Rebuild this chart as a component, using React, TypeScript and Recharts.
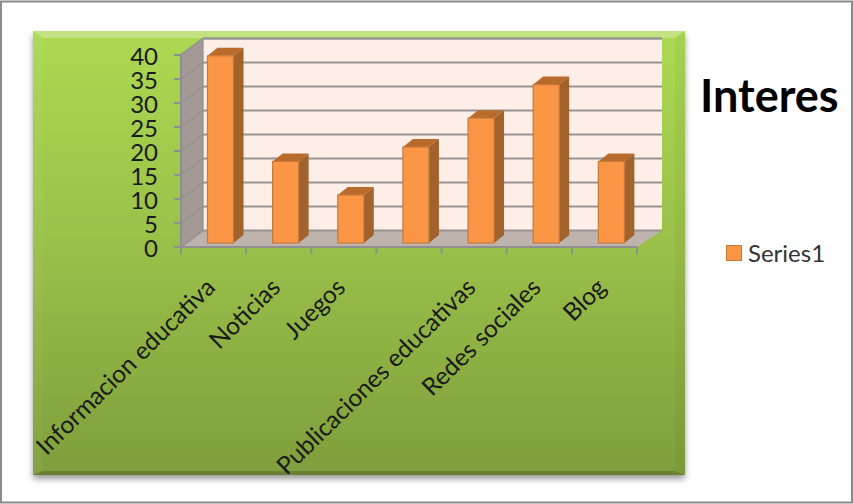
import { BarChart, Bar, XAxis, YAxis, CartesianGrid, Legend } from "recharts";

// the reference has seven columns but only six labels, the 4th one has no text
const categories = ["Informacion educativa", "Noticias", "Juegos", "", "Publicaciones educativas", "Redes sociales", "Blog"];
const seriesValues = [39, 17, 10, 20, 26, 33, 17];
const tickLabels = [0, 5, 10, 15, 20, 25, 30, 35, 40];

const data = categories.map((name, i) => ({ name, value: seriesValues[i] }));

const FONT = "Lato, 'Open Sans', sans-serif";
const GRAY = "#8f8f8f";
const WALL_DX = 22;
const WALL_DY = 16.5;
const PLOT_LEFT = 181;
const PLOT_RIGHT = 637;
const PLOT_TOP = 55;
const PLOT_BOTTOM = 247;
const BAND = (PLOT_RIGHT - PLOT_LEFT) / seriesValues.length;

function Bar3D({ x, y, width, height }: any) {
    const fx = x + 6.5;
    const fy = y - 4;
    const d = 10;
    const u = 8;
    return (
        <g>
            <polygon points={`${fx},${fy} ${fx + d},${fy - u} ${fx + width + d},${fy - u} ${fx + width},${fy}`} fill="#b96b2c" />
            <polygon points={`${fx + width},${fy} ${fx + width + d},${fy - u} ${fx + width + d},${fy + height - u} ${fx + width},${fy + height}`} fill="#a2622c" />
            <rect x={fx} y={fy} width={width} height={height} fill="#fa9646" stroke="#c8793a" strokeWidth={1.2} />
        </g>
    );
}

function GridLine({ x1, y1, x2, y2 }: any) {
    return (
        <g stroke="#979392" strokeWidth={2}>
            <line x1={x1} y1={y1} x2={x1 + WALL_DX} y2={y1 - WALL_DY} />
            <line x1={x1 + WALL_DX} y1={y1 - WALL_DY} x2={x2 + WALL_DX + 3} y2={y2 - WALL_DY} />
        </g>
    );
}

function CategoryTick({ x, y, payload, index }: any) {
    return (
        <g>
            <line x1={x - BAND / 2} y1={PLOT_BOTTOM} x2={x - BAND / 2} y2={PLOT_BOTTOM + 7} stroke={GRAY} strokeWidth={2} />
            {index === seriesValues.length - 1 && (
                <line x1={x + BAND / 2} y1={PLOT_BOTTOM} x2={x + BAND / 2} y2={PLOT_BOTTOM + 7} stroke={GRAY} strokeWidth={2} />
            )}
            <text
                x={x + 3}
                y={y + 34}
                textAnchor="end"
                fontSize={24.5}
                fontFamily={FONT}
                fill="#1a1a1a"
                transform={`rotate(-44.5 ${x + 3} ${y + 34})`}
            >
                {payload.value}
            </text>
        </g>
    );
}

function LegendBox({ payload }: any) {
    const item = payload && payload[0];
    return (
        <div style={{ display: "flex", alignItems: "center", fontFamily: FONT, fontSize: 24, color: "#333" }}>
            <span style={{ width: 14, height: 14, background: "#fa9646", border: "1.5px solid #c8793a", marginRight: 6 }} />
            {item ? item.value : ""}
        </div>
    );
}

function Backdrop() {
    return (
        <svg width={853} height={504} style={{ position: "absolute", left: 0, top: 0 }}>
            <defs>
                <linearGradient id="panelFill" x1="0" y1="0" x2="0" y2="1">
                    <stop offset="0%" stopColor="#acd952" />
                    <stop offset="50%" stopColor="#99bf49" />
                    <stop offset="100%" stopColor="#7f9e3c" />
                </linearGradient>
                <filter id="panelShadow" x="-5%" y="-5%" width="110%" height="110%">
                    <feDropShadow dx="0" dy="4" stdDeviation="3" floodColor="#000" floodOpacity={0.4} />
                </filter>
            </defs>
            <rect x={1} y={1.5} width={851} height={501} fill="#fff" stroke="#8a8a8a" strokeWidth={2} />
            <rect x={33} y={31} width={652} height={444} fill="url(#panelFill)" filter="url(#panelShadow)" />
            <polygon points="33,31 685,31 675,38 43,38" fill="#fff" fillOpacity={0.28} />
            <polygon points="33,31 43,38 43,469 33,475" fill="#fff" fillOpacity={0.04} />
            <polygon points="685,31 675,38 675,469 685,475" fill="#000" fillOpacity={0.03} />
            <polygon points="33,475 43,471 675,471 685,475" fill="#000" fillOpacity={0.18} />
            <rect x={203} y={38.5} width={459} height={192} fill="#fdefe8" />
            <polygon points="181,55 203,38.5 203,230.5 181,247" fill="#a39a96" />
            <polygon points="181,247 637,247 662,230.5 203,230.5" fill="#bfb3ae" />
            <line x1={203} y1={38.5} x2={662} y2={38.5} stroke="#979392" strokeWidth={2} />
            <line x1={203} y1={38.5} x2={203} y2={230.5} stroke={GRAY} strokeWidth={1.2} />
        </svg>
    );
}

export default function App() {
    return (
        <div style={{ position: "absolute", left: 0, top: 0, width: 853, height: 504, background: "#fff" }}>
            <Backdrop />
            <BarChart
                width={853}
                height={504}
                data={data}
                barSize={26}
                margin={{ left: 121, right: 106, top: PLOT_TOP, bottom: 227 }}
            >
                <CartesianGrid vertical={false} horizontal={GridLine} />
                <XAxis
                    dataKey="name"
                    height={30}
                    interval={0}
                    tickLine={false}
                    axisLine={{ stroke: GRAY, strokeWidth: 2 }}
                    tick={CategoryTick}
                />
                <YAxis
                    width={60}
                    domain={[0, 40]}
                    ticks={tickLabels}
                    interval={0}
                    tickSize={7}
                    tickMargin={16}
                    tickLine={{ stroke: GRAY, strokeWidth: 2 }}
                    axisLine={{ stroke: GRAY, strokeWidth: 2 }}
                    tick={{ fill: "#1a1a1a", fontSize: 24, fontFamily: FONT, dy: 1 }}
                />
                <Bar dataKey="value" name="Series1" shape={Bar3D} isAnimationActive={false} />
                <text x={700} y={112} fontSize={45} fontWeight={700} fontFamily={FONT} fill="#000">
                    Interes
                </text>
                <Legend
                    layout="vertical"
                    align="right"
                    verticalAlign="top"
                    width={110}
                    content={LegendBox}
                    wrapperStyle={{ position: "absolute", left: 726, top: 238 }}
                />
            </BarChart>
        </div>
    );
}
